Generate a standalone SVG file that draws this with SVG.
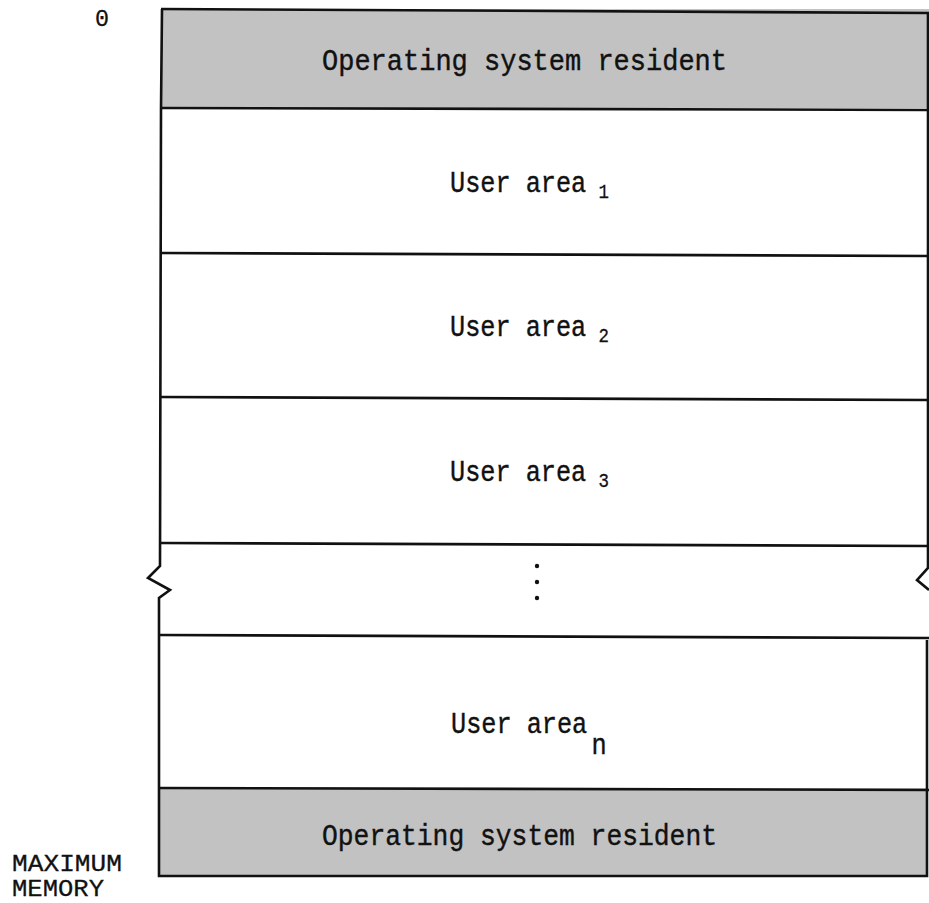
<svg xmlns="http://www.w3.org/2000/svg" width="929" height="903" viewBox="0 0 929 903">
<style>
.t{font-family:"Liberation Mono","DejaVu Sans Mono",monospace;font-size:29px;fill:#111;stroke:#111;stroke-width:0.4}
.s{font-size:20px;stroke-width:0.3}
.l{font-family:"Liberation Mono","DejaVu Sans Mono",monospace;font-size:24px;fill:#111;stroke:#111;stroke-width:0.3}
.ln{stroke:#111;stroke-width:2.6;fill:none;stroke-linejoin:miter}
.os{fill:#c2c2c2}
</style>
<rect width="929" height="903" fill="#fff"/>
<g id="labels">
<text class="l" x="95" y="26" textLength="14" lengthAdjust="spacingAndGlyphs">0</text>
<text class="l" x="12" y="871" textLength="110" lengthAdjust="spacingAndGlyphs">MAXIMUM</text>
<text class="l" x="12" y="896" textLength="92" lengthAdjust="spacingAndGlyphs">MEMORY</text>
</g>
<g id="os-top">
<rect class="os" x="161" y="9" width="768" height="99"/>
<text class="t" x="322" y="70" textLength="405" lengthAdjust="spacingAndGlyphs">Operating system resident</text>
</g>
<g id="user1">
<text class="t" transform="translate(450,192) scale(0.87,1)">User area<tspan class="s" dx="14" dy="6">1</tspan></text>
</g>
<g id="user2">
<text class="t" transform="translate(450,336) scale(0.87,1)">User area<tspan class="s" dx="14" dy="6">2</tspan></text>
</g>
<g id="user3">
<text class="t" transform="translate(450,481) scale(0.87,1)">User area<tspan class="s" dx="14" dy="6">3</tspan></text>
</g>
<g id="ellipsis">
<circle cx="537" cy="566" r="2.2" fill="#111"/>
<circle cx="537" cy="582" r="2.2" fill="#111"/>
<circle cx="537" cy="598" r="2.2" fill="#111"/>
</g>
<g id="usern">
<text class="t" transform="translate(451,733) scale(0.87,1)">User area<tspan dx="5" dy="21">n</tspan></text>
</g>
<g id="os-bottom">
<rect class="os" x="160" y="788" width="767" height="87"/>
<text class="t" x="322" y="845" textLength="395" lengthAdjust="spacingAndGlyphs">Operating system resident</text>
</g>
<g id="connectors">
<path class="ln" d="M161,9 L929,13"/>
<path class="ln" d="M162,9 L161,108 L160,566 L148,578 L170,590 L159,598 L159,876 L927,876 L927,640"/>
<path class="ln" d="M928,13 L928,568 L917,580 L929,590"/>
<path class="ln" d="M161,108 L929,110"/>
<path class="ln" d="M161,253 L929,256"/>
<path class="ln" d="M160,397 L929,400"/>
<path class="ln" d="M160,543 L929,546"/>
<path class="ln" d="M159,635 L929,638"/>
<path class="ln" d="M159,788 L929,790"/>
</g>
</svg>
